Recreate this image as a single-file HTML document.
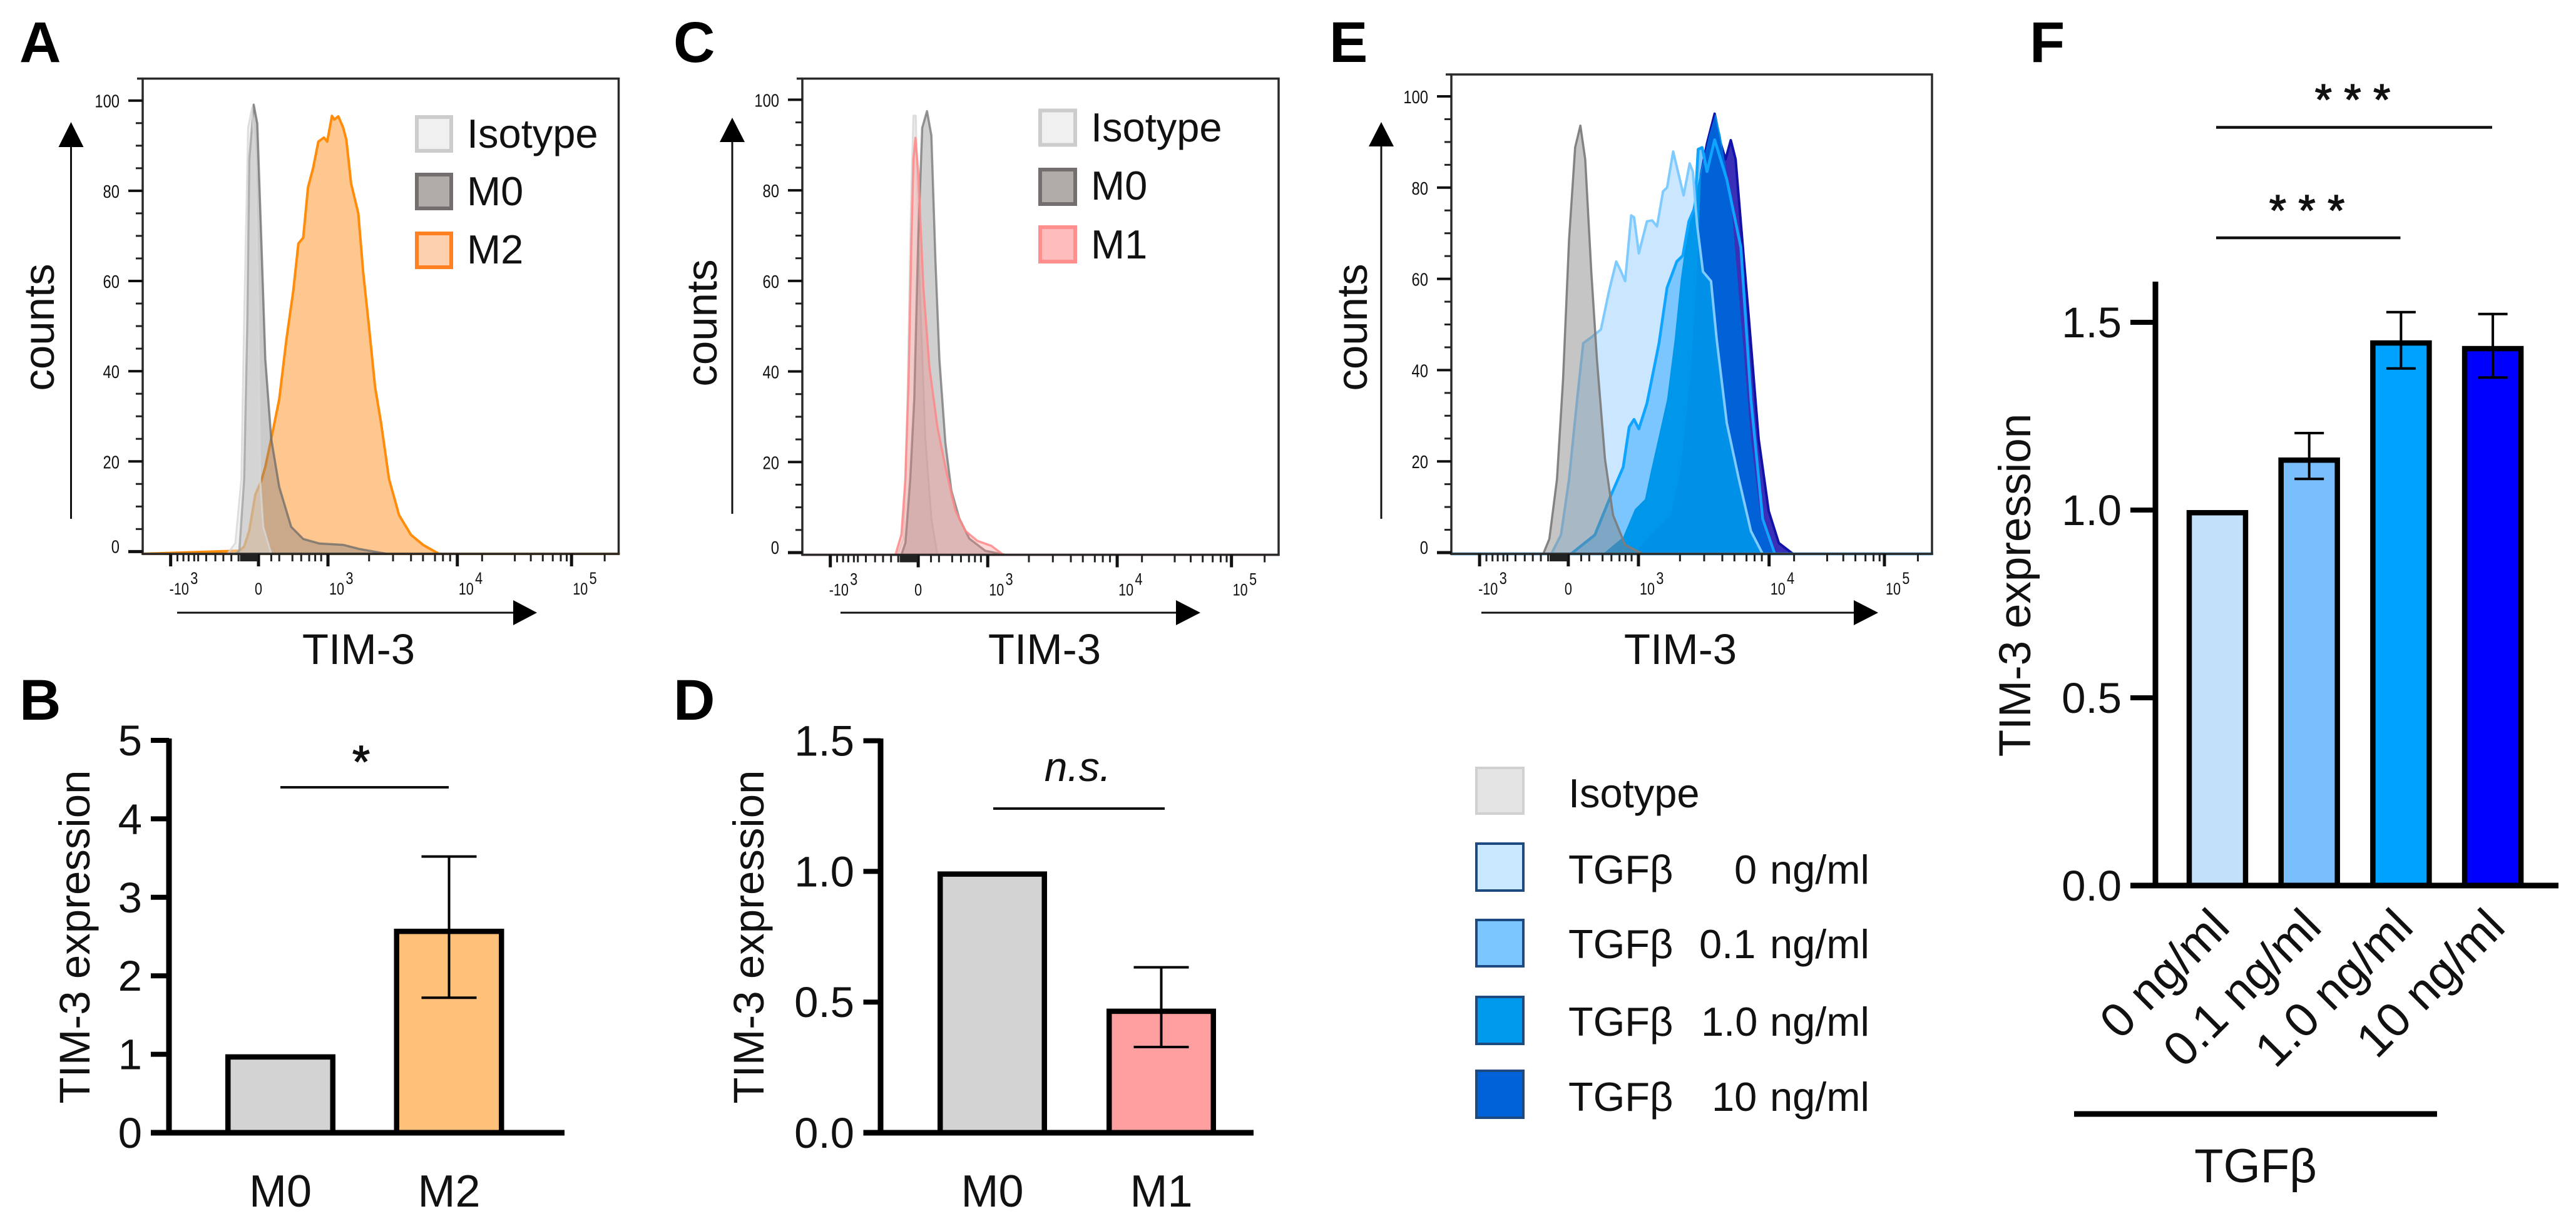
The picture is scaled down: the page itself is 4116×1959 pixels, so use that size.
<!DOCTYPE html>
<html lang="en">
<head>
<meta charset="utf-8">
<title>TIM-3 expression figure</title>
<style>
html,body{margin:0;padding:0;background:#fff}
svg{display:block}
text{font-family:"Liberation Sans",Arial,sans-serif;fill:#111}
.big{font-size:69px}
.leg{font-size:65px}
.letter{font-size:92px;font-weight:bold;fill:#000}
.star{stroke:#111;stroke-width:1.5}
</style>
</head>
<body>
<svg id="figure" xmlns="http://www.w3.org/2000/svg" width="4116" height="1959" viewBox="0 0 4116 1959">
<rect x="0" y="0" width="4116" height="1959" fill="#fff"/>

<text class="letter" x="31" y="99">A</text>
<text class="letter" x="31" y="1150">B</text>
<text class="letter" x="1076" y="99">C</text>
<text class="letter" x="1076" y="1150">D</text>
<text class="letter" x="2124" y="99">E</text>
<text class="letter" x="3243" y="99">F</text>

<g id="panelA"></g>
<g id="panelC"></g>
<g id="panelE"></g>
<g id="panelB"></g>
<g id="panelD"></g>
<g id="panelF"></g>

<!-- Panel A static -->
<text class="big" transform="translate(86,523) rotate(-90)" text-anchor="middle">counts</text>
<text class="big" x="573" y="1061" text-anchor="middle">TIM-3</text>
<g><line x1="113.5" y1="829" x2="113.5" y2="230" stroke="#111" stroke-width="3"/><polygon points="113.5,195 93.5,235 133.5,235" fill="#000"/></g>
<g><line x1="283" y1="979" x2="825" y2="979" stroke="#111" stroke-width="3"/><polygon points="858,979 820,959 820,999" fill="#000"/></g>
<g>
<rect x="666" y="187" width="55" height="54" fill="#f0f0f0" stroke="#cccccc" stroke-width="6"/>
<text class="leg" x="746" y="236">Isotype</text>
<rect x="666" y="279" width="55" height="54" fill="#b0aca8" stroke="#746e6e" stroke-width="6"/>
<text class="leg" x="746" y="328">M0</text>
<rect x="666" y="373" width="55" height="54" fill="#fdd1b0" stroke="#ff8020" stroke-width="6"/>
<text class="leg" x="746" y="421">M2</text>
</g>

<!-- Panel C static -->
<text class="big" transform="translate(1145,516) rotate(-90)" text-anchor="middle">counts</text>
<text class="big" x="1669" y="1061" text-anchor="middle">TIM-3</text>
<g><line x1="1170" y1="821" x2="1170" y2="222" stroke="#111" stroke-width="3"/><polygon points="1170,188 1150,227 1190,227" fill="#000"/></g>
<g><line x1="1343" y1="979" x2="1885" y2="979" stroke="#111" stroke-width="3"/><polygon points="1918,979 1879,959 1879,999" fill="#000"/></g>
<g>
<rect x="1662" y="176.5" width="56" height="55" fill="#f0f0f0" stroke="#cccccc" stroke-width="6"/>
<text class="leg" x="1743" y="226">Isotype</text>
<rect x="1662" y="271" width="56" height="55" fill="#b0aca8" stroke="#746e6e" stroke-width="6"/>
<text class="leg" x="1743" y="319">M0</text>
<rect x="1662" y="363" width="56" height="55" fill="#ffbcbc" stroke="#ff8f8f" stroke-width="6"/>
<text class="leg" x="1743" y="413">M1</text>
</g>

<!-- Panel E static -->
<text class="big" transform="translate(2184,523) rotate(-90)" text-anchor="middle">counts</text>
<text class="big" x="2685" y="1061" text-anchor="middle">TIM-3</text>
<g><line x1="2207" y1="829" x2="2207" y2="230" stroke="#111" stroke-width="3"/><polygon points="2207,195 2187,234 2227,234" fill="#000"/></g>
<g><line x1="2367" y1="979" x2="2968" y2="979" stroke="#111" stroke-width="3"/><polygon points="3001,979 2962,959 2962,999" fill="#000"/></g>
<g>
<rect x="2359" y="1227" width="75" height="73" fill="#e4e4e4" stroke="#d0d0d0" stroke-width="4"/>
<text class="leg" x="2506" y="1290">Isotype</text>
<rect x="2359" y="1348" width="75" height="75" fill="#c9e8ff" stroke="#1d4a80" stroke-width="4"/>
<text class="leg" y="1412"><tspan x="2506">TGFβ</tspan><tspan x="2771">0</tspan><tspan x="2828">ng/ml</tspan></text>
<rect x="2359" y="1470" width="75" height="74" fill="#7ac6ff" stroke="#1d4a80" stroke-width="4"/>
<text class="leg" y="1531"><tspan x="2506">TGFβ</tspan><tspan x="2715">0.1</tspan><tspan x="2828">ng/ml</tspan></text>
<rect x="2359" y="1593" width="75" height="75" fill="#009aec" stroke="#1d4a80" stroke-width="4"/>
<text class="leg" y="1655"><tspan x="2506">TGFβ</tspan><tspan x="2718">1.0</tspan><tspan x="2828">ng/ml</tspan></text>
<rect x="2359" y="1711" width="75" height="75" fill="#0062d8" stroke="#1d4a80" stroke-width="4"/>
<text class="leg" y="1775"><tspan x="2506">TGFβ</tspan><tspan x="2735">10</tspan><tspan x="2828">ng/ml</tspan></text>
</g>

<!-- Panel B static -->
<text class="big" transform="translate(143,1497) rotate(-90)" text-anchor="middle">TIM-3 expression</text>
<line x1="448" y1="1258" x2="717" y2="1258" stroke="#111" stroke-width="4"/>
<text class="star" x="577" y="1242" text-anchor="middle" font-size="72">*</text>

<!-- Panel D static -->
<text class="big" transform="translate(1220,1497) rotate(-90)" text-anchor="middle">TIM-3 expression</text>
<line x1="1587" y1="1292" x2="1861" y2="1292" stroke="#111" stroke-width="4"/>
<text x="1722" y="1248" text-anchor="middle" font-size="66" font-style="italic">n.s.</text>

<!-- Panel F static -->
<text class="big" transform="translate(3244,935) rotate(-90)" text-anchor="middle" style="font-size:71px">TIM-3 expression</text>
<line x1="3541" y1="203.5" x2="3982" y2="203.5" stroke="#111" stroke-width="4.5"/>
<text class="star" x="3759" y="183" text-anchor="middle" font-size="70">* * *</text>
<line x1="3541" y1="380" x2="3835.5" y2="380" stroke="#111" stroke-width="4.5"/>
<text class="star" x="3686" y="360" text-anchor="middle" font-size="70">* * *</text>
<line x1="3314" y1="1780" x2="3894" y2="1780" stroke="#000" stroke-width="9"/>
<text x="3604" y="1889" text-anchor="middle" font-size="76">TGFβ</text>
</svg>

<script>
/* ---------- Flow cytometry axes (channel units 0..1192, count 0..100) ---------- */
const channelMax = 1192;
const countTicks = [0, 20, 40, 60, 80, 100];
const countMinorTicks = [5, 10, 15, 25, 30, 35, 45, 50, 55, 65, 70, 75, 85, 90, 95];
const logTickChannels = [70, 290, 464, 788, 1074];
const logTickBases = ['-10', '0', '10', '10', '10'];
const logTickExponents = ['3', '', '3', '4', '5'];
const logMinorChannels = [87,102,115,129,139,159,182,202,222,240,246,250,254,258,262,266,270,274,278,282,286,322,342,375,397,417,432,447,567,627,672,702,732,752,770,850,932,972,1002,1027,1047,1062,1157];

/* ---------- Panel A histograms ---------- */
const aIsotypeChannels = [212,232,247,254,264,274,282,290,294,302,322];
const aIsotypeCounts = [0,1.9,16.1,51.5,94,98.4,86.9,51.5,16.1,5.5,0];
const aM0Channels = [232,242,254,262,267,278,287,297,307,322,342,372,402,442,502,542,612];
const aM0Counts = [0,0.2,16.1,51.5,86.9,99.1,94.9,69.2,42.7,25,14.3,5.5,2.8,1.8,1.5,0.6,0];
const aM2Channels = [242,254,267,282,297,307,322,342,360,377,390,402,414,427,440,454,462,474,480,490,502,510,522,540,552,567,582,597,617,642,672,702,742];
const aM2Counts = [0.2,1.1,4.6,12.6,15.7,18.8,25,33.8,47.1,57.7,68.3,69.6,80.7,85.1,90.9,91.8,90.9,96.6,95.8,96.5,94,91.3,81.6,75,62.1,49.7,36.5,28.5,16.1,8.1,3.7,1.5,0];

/* ---------- Panel C histograms ---------- */
const cIsotypeChannels = [238,253,263,272,278,284,293,308,323,338];
const cIsotypeCounts = [0,3.1,33.9,78,96.5,96.5,60.4,25.1,7.5,0];
const cM0Channels = [248,258,270,280,290,300,312,323,333,343,358,373,393,418,458,508];
const cM0Counts = [0,2.2,16.3,33.9,69.2,93.8,97.5,92.1,64.8,42.7,24.2,13.7,7.5,3.1,0.4,0];
const cM1Channels = [233,248,258,266,273,278,283,290,303,318,338,358,383,408,438,473,503];
const cM1Counts = [0,4,16.3,38.3,69.2,86.8,91.6,84.1,58.6,41,27.8,18.9,9.3,4.8,2.6,1.5,0];

/* ---------- Panel E histograms ---------- */
const eIsotypeChannels = [228,243,262,277,292,307,320,332,347,361,381,401,431,475];
const eIsotypeCounts = [0,3,16.1,38,68.7,88.8,93.6,86.2,61.6,42.4,20.5,8.2,1.7,0];
const eT0Channels = [248,272,292,312,327,347,371,391,409,421,431,446,453,465,485,498,510,525,535,550,562,576,591,599,609,624,644,658,683,713,743,772];
const eT0Counts = [0,3.9,16.1,33.6,45.9,47.2,48.9,57.3,63.8,61.6,59.5,73.9,73.5,65.6,72.6,72.8,71.5,79.2,80,87.9,83.5,78.3,85.3,83.5,72.2,61.6,59.5,46.8,28.4,16.1,4.7,0];
const eT01Channels = [297,356,396,426,441,453,465,485,515,535,559,574,589,604,612,622,634,653,683,718,743,772,802];
const eT01Counts = [0,3.9,12.6,18.7,27.5,29.2,27.1,32.7,45.9,58.1,63.8,65.1,72.6,75.7,88.4,88.8,83.5,90.5,81.8,66.9,33.6,7.4,0];
const eT1Channels = [376,426,455,480,495,515,535,554,569,584,614,639,655,668,693,718,743,767,797];
const eT1Counts = [0,3.4,9.5,11.7,17.9,25.7,33.6,46.8,59.9,69.5,81.8,91.4,96.2,91.4,77.4,51.1,24.9,7.4,0];
const eT10Channels = [455,495,545,569,594,609,619,634,653,668,680,693,705,718,738,762,787,812,847];
const eT10Counts = [0,3.9,8.2,17.9,38.9,59.9,82.7,89.7,96.2,89.7,86.2,90.4,86.2,72.2,51.1,24.9,9.1,2.1,0];

/* ---------- Bar chart data ---------- */
const bCategories = ['M0', 'M2'];
const bValues = [1, 2.6];
const bErrorHigh = [null, 3.52];
const bErrorLow = [null, 1.72];
const bTicks = [0, 1, 2, 3, 4, 5];
const bTickLabels = ['0', '1', '2', '3', '4', '5'];

const dCategories = ['M0', 'M1'];
const dValues = [1, 0.475];
const dErrorHigh = [null, 0.633];
const dErrorLow = [null, 0.328];
const dTicks = [0, 0.5, 1, 1.5];
const dTickLabels = ['0.0', '0.5', '1.0', '1.5'];

const fCategories = ['0 ng/ml', '0.1 ng/ml', '1.0 ng/ml', '10 ng/ml'];
const fValues = [1, 1.14, 1.452, 1.437];
const fErrorHigh = [null, 1.205, 1.527, 1.522];
const fErrorLow = [null, 1.083, 1.377, 1.353];
const fTicks = [0, 0.5, 1, 1.5];
const fTickLabels = ['0.0', '0.5', '1.0', '1.5'];

const SVG_NS = 'http://www.w3.org/2000/svg';
function make(parent, tag, attrs, name) {
  const el = document.createElementNS(SVG_NS, tag);
  Object.keys(attrs).forEach(function (k) { el.setAttribute(k, attrs[k]); });
  
  
  parent.appendChild(el);
  return el;
}

/* ---------- Histogram helpers ---------- */
function histAxes(box) {
  const xs = function (ch) { return box.left + ch / channelMax * (box.right - box.left); };
  const ys = function (c) { return c <= 0 ? box.bottom : box.y0 - c * (box.y0 - box.y100) / 100; };
  return { x: xs, y: ys };
}
function areaPath(axes, box, channels, counts) {
  let d = 'M' + axes.x(0) + ',' + box.bottom;
  channels.forEach(function (ch, i) {
    d += 'L' + axes.x(ch).toFixed(1) + ',' + axes.y(counts[i]).toFixed(1);
  });
  d += 'L' + axes.x(channelMax) + ',' + box.bottom + 'Z';
  return d;
}
function drawHistFrame(group, box, axes, prefix) {
  make(group, 'rect', { x: box.left, y: box.top, width: box.right - box.left, height: box.bottom - box.top, fill: 'none', stroke: '#2a2a2a', 'stroke-width': 3.5 }, prefix + '-frame');
  make(group, 'line', { x1: box.left - 9, y1: box.top, x2: box.left, y2: box.top, stroke: '#2a2a2a', 'stroke-width': 3.5 }, prefix + '-frame-top-tick');
  countTicks.forEach(function (v) {
    const y = box.y0 - v * (box.y0 - box.y100) / 100;
    make(group, 'line', { x1: box.left - 23, y1: y, x2: box.left, y2: y, stroke: '#111', 'stroke-width': v === 0 ? 5 : 4 }, prefix + '-y-tick-' + v);
    const lab = make(group, 'text', { transform: 'translate(' + (box.left - 37) + ',' + (y + 11 - (v === 0 ? 9 : 0)) + ') scale(0.82,1)', 'text-anchor': 'end', 'font-size': 29 }, prefix + '-y-tick-label-' + v);
    lab.textContent = String(v);
  });
  countMinorTicks.forEach(function (v) {
    const y = axes.y(v);
    make(group, 'line', { x1: box.left - 11, y1: y, x2: box.left, y2: y, stroke: '#222', 'stroke-width': 3 }, prefix + '-y-minor-tick');
  });
  logTickChannels.forEach(function (ch, i) {
    const x = axes.x(ch);
    make(group, 'line', { x1: x, y1: box.bottom, x2: x, y2: box.bottom + 20, stroke: '#111', 'stroke-width': 5 }, prefix + '-x-tick-' + i);
    const exp = logTickExponents[i];
    const lab = make(group, 'text', { transform: 'translate(' + (exp ? x + (i === 0 ? -2 : 2) : x) + ',' + (box.bottom + 65) + ') scale(0.8,1)', 'text-anchor': exp ? 'start' : 'middle', 'font-size': 27 }, prefix + '-x-tick-label-' + i);
    const base = document.createElementNS(SVG_NS, 'tspan');
    base.textContent = logTickBases[i];
    lab.appendChild(base);
    if (exp) {
      const sup = document.createElementNS(SVG_NS, 'tspan');
      sup.setAttribute('dy', '-17');
      sup.setAttribute('dx', '3');
      sup.textContent = exp;
      lab.appendChild(sup);
    }
  });
  logMinorChannels.forEach(function (ch) {
    const x = axes.x(ch);
    make(group, 'line', { x1: x, y1: box.bottom, x2: x, y2: box.bottom + 12, stroke: '#222', 'stroke-width': 3 }, prefix + '-x-minor-tick');
  });
}

/* Panel A */
(function () {
  const box = { left: 228, right: 988.5, top: 125.6, bottom: 885, y0: 881.4, y100: 160.7 };
  const ax = histAxes(box);
  const g = document.getElementById('panelA');
  make(g, 'path', { d: areaPath(ax, box, aM2Channels, aM2Counts), fill: '#fec78f', stroke: '#ff8c0a', 'stroke-width': 4, 'stroke-linejoin': 'round' }, 'a-series-m2');
  make(g, 'path', { d: areaPath(ax, box, aM0Channels, aM0Counts), fill: 'rgba(128,128,128,0.42)', stroke: 'rgba(105,105,105,0.75)', 'stroke-width': 3.5, 'stroke-linejoin': 'round' }, 'a-series-m0');
  make(g, 'path', { d: areaPath(ax, box, aIsotypeChannels, aIsotypeCounts), fill: 'rgba(225,225,225,0.45)', stroke: 'rgba(215,215,215,0.8)', 'stroke-width': 3, 'stroke-linejoin': 'round' }, 'a-series-isotype');
  drawHistFrame(g, box, ax, 'a');
})();

/* Panel C */
(function () {
  const box = { left: 1282, right: 2043, top: 125.6, bottom: 886.5, y0: 883, y100: 159.4 };
  const ax = histAxes(box);
  const g = document.getElementById('panelC');
  make(g, 'path', { d: areaPath(ax, box, cIsotypeChannels, cIsotypeCounts), fill: 'rgba(225,225,225,0.6)', stroke: 'rgba(215,215,215,0.8)', 'stroke-width': 3, 'stroke-linejoin': 'round' }, 'c-series-isotype');
  make(g, 'path', { d: areaPath(ax, box, cM0Channels, cM0Counts), fill: 'rgba(128,128,128,0.38)', stroke: 'rgba(115,115,115,0.75)', 'stroke-width': 3.5, 'stroke-linejoin': 'round' }, 'c-series-m0');
  make(g, 'path', { d: areaPath(ax, box, cM1Channels, cM1Counts), fill: 'rgba(255,125,125,0.3)', stroke: 'rgba(255,135,135,0.85)', 'stroke-width': 3.5, 'stroke-linejoin': 'round' }, 'c-series-m1');
  drawHistFrame(g, box, ax, 'c');
})();

/* Panel E */
(function () {
  const box = { left: 2319, right: 3087, top: 119, bottom: 885, y0: 883, y100: 154 };
  const ax = histAxes(box);
  const g = document.getElementById('panelE');
  const t0 = areaPath(ax, box, eT0Channels, eT0Counts);
  const t01 = areaPath(ax, box, eT01Channels, eT01Counts);
  const t1 = areaPath(ax, box, eT1Channels, eT1Counts);
  const t10 = areaPath(ax, box, eT10Channels, eT10Counts);
  const defs = make(g, 'defs', {}, 'e-clip-definitions');
  const clip0 = make(defs, 'clipPath', { id: 'clipT0' }, 'e-clip-t0');
  make(clip0, 'path', { d: t0 }, 'e-clip-t0-shape');
  const clip10 = make(defs, 'clipPath', { id: 'clipT10' }, 'e-clip-t10');
  make(clip10, 'path', { d: t10 }, 'e-clip-t10-shape');

  make(g, 'path', { d: t0, fill: '#cbe7ff' }, 'e-series-tgfb-0');
  make(g, 'path', { d: t01, fill: '#7cc6ff' }, 'e-series-tgfb-0-1');
  make(g, 'path', { d: t10, fill: '#3a30b8', stroke: '#1212a8', 'stroke-width': 4, 'stroke-linejoin': 'round' }, 'e-series-tgfb-10');
  make(g, 'path', { d: t1, fill: '#0096ea' }, 'e-series-tgfb-1');
  const inner = make(g, 'g', { 'clip-path': 'url(#clipT10)' }, 'e-overlap-t1-t10');
  make(inner, 'path', { d: t1, fill: '#0062d6' }, 'e-overlap-t1-t10-fill');
  const inner2 = make(inner, 'g', { 'clip-path': 'url(#clipT0)' }, 'e-overlap-t0');
  make(inner2, 'path', { d: t1, fill: '#0090e8' }, 'e-overlap-t0-fill');
  make(g, 'path', { d: t01, fill: 'none', stroke: '#0ea4ff', 'stroke-width': 4.5, 'stroke-linejoin': 'round' }, 'e-line-tgfb-0-1');
  make(g, 'path', { d: t0, fill: 'none', stroke: '#7fcbff', 'stroke-width': 4, 'stroke-linejoin': 'round' }, 'e-line-tgfb-0');
  make(g, 'path', { d: areaPath(ax, box, eIsotypeChannels, eIsotypeCounts), fill: 'rgba(128,128,128,0.46)', stroke: 'rgba(125,125,125,0.95)', 'stroke-width': 3.5, 'stroke-linejoin': 'round' }, 'e-series-isotype');
  drawHistFrame(g, box, ax, 'e');
})();

/* ---------- Bar chart helper ---------- */
function drawBars(cfg) {
  const g = document.getElementById(cfg.group);
  const ys = function (v) { return cfg.y0 - v * cfg.pxPerUnit; };
  const xs = function (i) { return cfg.firstCenter + i * cfg.step; };
  cfg.values.forEach(function (v, i) {
    const top = ys(v);
    make(g, 'rect', { x: xs(i) - cfg.barWidth / 2 + cfg.stroke / 2, y: top + cfg.stroke / 2, width: cfg.barWidth - cfg.stroke, height: cfg.y0 - top - cfg.stroke / 2, fill: cfg.colors[i], stroke: '#000', 'stroke-width': cfg.stroke }, cfg.prefix + '-bar-' + i);
  });
  make(g, 'line', { x1: cfg.axisX, y1: cfg.axisTop, x2: cfg.axisX, y2: cfg.y0 + 4, stroke: '#000', 'stroke-width': 9 }, cfg.prefix + '-y-axis');
  make(g, 'line', { x1: cfg.tickLeft, y1: cfg.y0, x2: cfg.axisRight, y2: cfg.y0, stroke: '#000', 'stroke-width': 9 }, cfg.prefix + '-x-axis');
  cfg.ticks.forEach(function (t, i) {
    const y = ys(t);
    make(g, 'line', { x1: cfg.tickLeft, y1: y, x2: cfg.axisX, y2: y, stroke: '#000', 'stroke-width': 8 }, cfg.prefix + '-y-tick-' + i);
    const lab = make(g, 'text', { x: cfg.labelRight, y: y + 24, 'text-anchor': 'end', 'font-size': 69 }, cfg.prefix + '-y-tick-label-' + i);
    lab.textContent = cfg.tickLabels[i];
  });
  cfg.errHigh.forEach(function (hi, i) {
    if (hi === null) return;
    const lo = cfg.errLow[i];
    const x = xs(i);
    make(g, 'line', { x1: x, y1: ys(hi), x2: x, y2: ys(lo), stroke: '#000', 'stroke-width': 4 }, cfg.prefix + '-error-stem-' + i);
    make(g, 'line', { x1: x - cfg.cap, y1: ys(hi), x2: x + cfg.cap, y2: ys(hi), stroke: '#000', 'stroke-width': 4 }, cfg.prefix + '-error-cap-high-' + i);
    make(g, 'line', { x1: x - cfg.cap, y1: ys(lo), x2: x + cfg.cap, y2: ys(lo), stroke: '#000', 'stroke-width': 4 }, cfg.prefix + '-error-cap-low-' + i);
  });
  cfg.categories.forEach(function (c, i) {
    const x = xs(i);
    if (cfg.rotated) {
      const lab = make(g, 'text', { transform: 'translate(' + (x + cfg.rotDx) + ',' + cfg.rotY + ') rotate(-45)', 'text-anchor': 'end', 'font-size': 77 }, cfg.prefix + '-x-label-' + i);
      lab.textContent = c;
    } else {
      const lab = make(g, 'text', { x: x, y: 1928, 'text-anchor': 'middle', 'font-size': 72 }, cfg.prefix + '-x-label-' + i);
      lab.textContent = c;
    }
  });
}

drawBars({ group: 'panelB', prefix: 'b', categories: bCategories, values: bValues, errHigh: bErrorHigh, errLow: bErrorLow, ticks: bTicks, tickLabels: bTickLabels,
  colors: ['#d3d3d3', '#ffc07a'], y0: 1810, pxPerUnit: 125.4, axisX: 270, axisTop: 1180, axisRight: 902, tickLeft: 241, labelRight: 227,
  firstCenter: 448, step: 269.5, barWidth: 176, stroke: 8.5, cap: 44 });
drawBars({ group: 'panelD', prefix: 'd', categories: dCategories, values: dValues, errHigh: dErrorHigh, errLow: dErrorLow, ticks: dTicks, tickLabels: dTickLabels,
  colors: ['#d3d3d3', '#ff9f9f'], y0: 1810, pxPerUnit: 417.6, axisX: 1407, axisTop: 1180, axisRight: 2003, tickLeft: 1379.5, labelRight: 1365,
  firstCenter: 1585.5, step: 270, barWidth: 175, stroke: 8.5, cap: 44 });
drawBars({ group: 'panelF', prefix: 'f', categories: fCategories, values: fValues, errHigh: fErrorHigh, errLow: fErrorLow, ticks: fTicks, tickLabels: fTickLabels,
  colors: ['#c2e0fa', '#7bbefc', '#00a2ff', '#0000ff'], y0: 1415, pxPerUnit: 600, axisX: 3444, axisTop: 450, axisRight: 4088, tickLeft: 3404, labelRight: 3390,
  firstCenter: 3543, step: 146.7, barWidth: 98.5, stroke: 8.5, cap: 23.5, rotated: true, rotDx: 23, rotY: 1485 });
</script>
</body>
</html>
